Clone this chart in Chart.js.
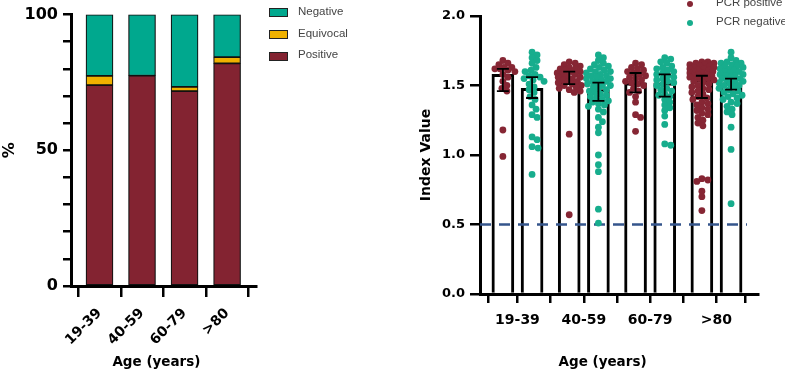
<!DOCTYPE html>
<html>
<head>
<meta charset="utf-8">
<script src="https://cdn.jsdelivr.net/npm/chart.js@4"></script>
<style>
  body { margin: 0; background: #fff; }
  #wrap { position: relative; width: 785px; height: 374px; overflow: hidden; }
  .panel { position: absolute; top: 0; height: 374px; }
  .leg { position: absolute; font-family: "Liberation Sans", sans-serif; color: #444; white-space: nowrap; }
  .sw { position: absolute; width: 17px; height: 7px; border: 1px solid #222; }
  .dot { position: absolute; width: 6px; height: 6px; border-radius: 50%; }
</style>
</head>
<body>
<div id="wrap">
  <div class="panel" style="left:0;width:390px"><canvas id="leftChart"></canvas></div>
  <div class="panel" style="left:390px;width:395px"><canvas id="rightChart"></canvas></div>

  <!-- left legend -->
  <div class="sw" style="left:269px;top:8px;background:#00A88E"></div>
  <div class="leg" style="left:298px;top:5px;font-size:11.5px">Negative</div>
  <div class="sw" style="left:269px;top:30px;background:#F0B100"></div>
  <div class="leg" style="left:298px;top:27px;font-size:11.5px">Equivocal</div>
  <div class="sw" style="left:269px;top:52px;background:#832331"></div>
  <div class="leg" style="left:298px;top:48px;font-size:11.5px">Positive</div>

  <!-- right legend -->
  <div class="dot" style="left:687px;top:1px;background:#862634"></div>
  <div class="leg" style="left:716px;top:-4px;font-size:11.5px">PCR positive</div>
  <div class="dot" style="left:687px;top:20px;background:#17AD8D"></div>
  <div class="leg" style="left:716px;top:15px;font-size:11.5px">PCR negative</div>
</div>

<script>
// ===== DATA =====
const ageGroups = ["19-39", "40-59", "60-79", ">80"];

// left panel: % of samples per age group
const positivePct  = [74.0, 77.5, 71.8, 82.0];
const equivocalPct = [3.4, 0, 1.6, 2.3];
const negativePct  = [22.6, 22.5, 26.6, 15.7];

// right panel: mean index value and error bar ends
const meanPos = [1.58, 1.53, 1.52, 1.54];
const meanNeg = [1.48, 1.47, 1.52, 1.52];
const errPosLow  = [1.46, 1.51, 1.45, 1.41];
const errPosHigh = [1.62, 1.60, 1.59, 1.57];
const errNegLow  = [1.41, 1.39, 1.42, 1.47];
const errNegHigh = [1.56, 1.52, 1.58, 1.55];

// individual samples
const pcrPositive = [
  [1.68,1.66,1.65,1.63,1.63,1.62,1.62,1.61,1.60,1.58,1.56,1.53,1.50,1.48,1.46,1.18,0.99],
  [1.67,1.66,1.65,1.64,1.63,1.62,1.62,1.61,1.60,1.60,1.59,1.58,1.58,1.57,1.56,1.56,1.55,1.54,1.53,1.53,
   1.52,1.51,1.50,1.50,1.49,1.48,1.47,1.46,1.45,1.15,0.57],
  [1.66,1.65,1.63,1.62,1.61,1.60,1.59,1.58,1.57,1.56,1.55,1.54,1.53,1.52,1.51,1.50,1.48,1.46,1.45,1.42,
   1.38,1.29,1.27,1.17],
  [1.67,1.67,1.66,1.66,1.65,1.65,1.64,1.64,1.63,1.63,1.62,1.62,1.61,1.61,1.60,1.60,1.59,1.59,1.58,1.58,
   1.57,1.57,1.56,1.56,1.55,1.55,1.54,1.53,1.52,1.51,1.50,1.49,1.48,1.47,1.46,1.45,1.44,1.42,1.41,1.40,
   1.38,1.37,1.36,1.34,1.33,1.32,1.30,1.29,1.27,1.25,1.23,1.21,0.83,0.82,0.81,0.74,0.70,0.60]
];
const pcrNegative = [
  [1.74,1.72,1.70,1.68,1.66,1.63,1.61,1.60,1.58,1.57,1.56,1.55,1.54,1.53,1.51,1.49,1.47,1.45,1.42,1.40,
   1.36,1.33,1.29,1.27,1.13,1.11,1.06,1.05,0.86],
  [1.72,1.70,1.68,1.66,1.65,1.64,1.63,1.62,1.61,1.60,1.60,1.59,1.58,1.57,1.57,1.56,1.55,1.55,1.54,1.53,
   1.53,1.52,1.51,1.50,1.50,1.49,1.48,1.47,1.46,1.45,1.44,1.43,1.42,1.41,1.40,1.39,1.38,1.37,1.36,1.35,
   1.33,1.31,1.27,1.24,1.20,1.16,1.00,0.93,0.88,0.61,0.51],
  [1.70,1.69,1.67,1.66,1.64,1.63,1.62,1.61,1.60,1.59,1.58,1.57,1.56,1.55,1.54,1.53,1.52,1.51,1.50,1.48,
   1.47,1.46,1.44,1.43,1.42,1.40,1.38,1.36,1.34,1.32,1.28,1.22,1.08,1.07],
  [1.74,1.70,1.68,1.67,1.66,1.66,1.65,1.64,1.64,1.63,1.62,1.62,1.61,1.60,1.60,1.59,1.58,1.58,1.57,1.57,
   1.56,1.55,1.55,1.54,1.53,1.53,1.52,1.51,1.50,1.50,1.49,1.48,1.47,1.46,1.45,1.44,1.43,1.42,1.41,1.40,
   1.38,1.37,1.35,1.33,1.31,1.29,1.20,1.04,0.65]
];

const cutoff = 0.5;

// ===== STYLE =====
const BOLD = "'DejaVu Sans', sans-serif";
const MAROON = "#832331", TEAL = "#00A88E", GOLD = "#F0B100";
const OFF = 0.22;          // half distance between pos/neg bar in a group
const X_MIN = 0.435, X_MAX = 4.626, CUTOFF_END = 4.46;
const NBSP = "\u00A0";     // trailing spaces nudge the centred axis titles left

Chart.defaults.animation = false;
Chart.defaults.plugins.legend.display = false;
Chart.defaults.plugins.tooltip.enabled = false;
Chart.defaults.color = "#000";

const barX = (i, side) => i + 1 + side * OFF;

function axisGrid(len) {
  return { drawOnChartArea: false, drawTicks: true, tickLength: len, color: "#000", lineWidth: 2.5 };
}

// ==========================
// Left: stacked percentages
// ==========================
function renderLeft() {
  const mk = (label, vals, color) => ({
    label,
    data: vals.map((v, i) => ({ x: i, y: v })),
    backgroundColor: color,
    borderColor: "#111",
    borderWidth: 1.2,
    borderSkipped: false,
    barThickness: 27
  });

  new Chart(document.getElementById("leftChart"), {
    type: "bar",
    data: {
      datasets: [
        mk("Positive", positivePct, MAROON),
        mk("Equivocal", equivocalPct, GOLD),
        mk("Negative", negativePct, TEAL)
      ]
    },
    options: {
      responsive: true,
      maintainAspectRatio: false,
      layout: { padding: { left: 0, top: 10, right: 134, bottom: 0 } },
      scales: {
        x: {
          type: "linear",
          stacked: true,
          offset: false,
          min: -0.67,
          max: 3.68,
          afterBuildTicks: a => { a.ticks = ageGroups.map((_, i) => ({ value: i })); },
          afterFit: s => { s.height = 88; },
          ticks: {
            callback: v => ageGroups[v],
            minRotation: 45,
            maxRotation: 45,
            padding: 8,
            font: { family: BOLD, weight: "bold", size: 14 }
          },
          grid: axisGrid(11),
          border: { color: "#000", width: 3 },
          title: {
            display: true,
            text: "Age (years)" + NBSP.repeat(3),
            padding: { top: 0, bottom: 3 },
            font: { family: BOLD, weight: "bold", size: 13.5 }
          }
        },
        y: {
          stacked: true,
          min: 0,
          max: 100,
          afterFit: s => { s.width = 71; },
          ticks: {
            stepSize: 10,
            autoSkip: false,
            padding: 5,
            callback: v => (v % 50 === 0 ? v : ""),
            font: { family: BOLD, weight: "bold", size: 16 }
          },
          grid: axisGrid(8),
          border: { color: "#000", width: 3 },
          title: {
            display: true,
            text: "%",
            padding: { top: 0, bottom: 0 },
            font: { family: BOLD, weight: "bold", size: 16 }
          }
        }
      }
    }
  });
}

// ==========================
// Right: index value per sample
// ==========================
const errorBars = {
  id: "errorBars",
  afterDatasetsDraw(chart) {
    const { ctx, scales: { x, y } } = chart;
    ctx.save();
    ctx.strokeStyle = "#000";
    ctx.lineWidth = 1.8;
    [[errPosLow, errPosHigh, -1], [errNegLow, errNegHigh, 1]].forEach(([lo, hi, side]) => {
      lo.forEach((l, i) => {
        const px = x.getPixelForValue(barX(i, side));
        const y1 = y.getPixelForValue(l), y2 = y.getPixelForValue(hi[i]);
        ctx.beginPath();
        ctx.moveTo(px, y1); ctx.lineTo(px, y2);
        ctx.moveTo(px - 6, y1); ctx.lineTo(px + 6, y1);
        ctx.moveTo(px - 6, y2); ctx.lineTo(px + 6, y2);
        ctx.stroke();
      });
    });
    ctx.restore();
  }
};

// simple deterministic beeswarm, offsets in pixels
function swarmOffsets(vals, pxPerY, dmin, maxOff) {
  const placed = [];
  return vals.map(v => {
    const py = v * pxPerY;
    let best = 0, bestD = -1;
    for (let k = 0; k <= maxOff * 2; k++) {
      const off = k % 2 ? (k + 1) / 2 : -k / 2;
      let d = Infinity;
      for (const p of placed) d = Math.min(d, Math.hypot(p.x - off, p.y - py));
      if (d >= dmin) { best = off; bestD = d; break; }
      if (d > bestD) { bestD = d; best = off; }
    }
    placed.push({ x: best, y: py });
    return best;
  });
}

function renderRight() {
  const bars = (vals, side) => ({
    type: "bar",
    data: vals.map((v, i) => ({ x: barX(i, side), y: v })),
    backgroundColor: "#fff",
    borderColor: "#000",
    borderWidth: 3,
    barThickness: 22,
    grouped: false,
    order: 4
  });
  const dots = (sets, side, color) => ({
    type: "scatter",
    data: sets.flatMap((vals, i) => vals.map(v => ({ x: barX(i, side), y: v }))),
    backgroundColor: color,
    borderWidth: 0,
    pointRadius: 3.4,
    order: 1
  });

  const chart = new Chart(document.getElementById("rightChart"), {
    type: "bar",
    data: {
      datasets: [
        bars(meanPos, -1),
        bars(meanNeg, 1),
        dots(pcrPositive, -1, "#862634"),
        dots(pcrNegative, 1, "#17AD8D"),
        {
          type: "line",
          data: [{ x: X_MIN, y: cutoff }, { x: CUTOFF_END, y: cutoff }],
          borderColor: "#35558C",
          borderWidth: 2.5,
          borderDash: [11, 8],
          pointRadius: 0,
          order: 2
        }
      ]
    },
    options: {
      responsive: true,
      maintainAspectRatio: false,
      layout: { padding: { left: 0, top: 16, right: 27, bottom: 0 } },
      scales: {
        x: {
          type: "linear",
          offset: false,
          min: X_MIN,
          max: X_MAX,
          weight: 1,
          afterBuildTicks: a => {
            a.ticks = ageGroups.flatMap((_, i) => [{ value: barX(i, -1) }, { value: barX(i, 1) }]);
          },
          afterFit: s => { s.height = 10; },
          ticks: { callback: () => "" },
          grid: axisGrid(9),
          border: { color: "#000", width: 3 }
        },
        x2: {
          type: "linear",
          position: "bottom",
          offset: false,
          min: X_MIN,
          max: X_MAX,
          weight: 2,
          afterBuildTicks: a => { a.ticks = ageGroups.map((_, i) => ({ value: i + 1 })); },
          afterFit: s => { s.height = 70; },
          ticks: {
            callback: v => ageGroups[v - 1],
            maxRotation: 0,
            padding: 0,
            font: { family: BOLD, weight: "bold", size: 14 }
          },
          grid: { display: false },
          border: { display: false },
          title: {
            display: true,
            text: "Age (years)" + NBSP.repeat(7),
            padding: { top: 0, bottom: 3 },
            font: { family: BOLD, weight: "bold", size: 13.5 }
          }
        },
        y: {
          min: 0,
          max: 2,
          afterFit: s => { s.width = 90; },
          ticks: {
            stepSize: 0.5,
            padding: 5,
            callback: v => v.toFixed(1),
            font: { family: BOLD, weight: "bold", size: 13 }
          },
          grid: axisGrid(10),
          border: { color: "#000", width: 3 },
          title: {
            display: true,
            text: "Index Value",
            padding: { top: 28, bottom: 0 },
            font: { family: BOLD, weight: "bold", size: 14 }
          }
        }
      }
    },
    plugins: [errorBars]
  });

  // spread the dots sideways now that the scales are known
  const xs = chart.scales.x, ys = chart.scales.y;
  const unitPerPx = (xs.max - xs.min) / xs.width;
  const pxPerY = ys.height / (ys.max - ys.min);
  [[2, pcrPositive, -1], [3, pcrNegative, 1]].forEach(([di, sets, side]) => {
    const pts = [];
    sets.forEach((vals, i) => {
      const offs = swarmOffsets(vals, pxPerY, 5.5, 12);
      vals.forEach((v, k) => pts.push({ x: barX(i, side) + offs[k] * unitPerPx, y: v }));
    });
    chart.data.datasets[di].data = pts;
  });
  chart.update("none");
}

renderLeft();
renderRight();
</script>
</body>
</html>
